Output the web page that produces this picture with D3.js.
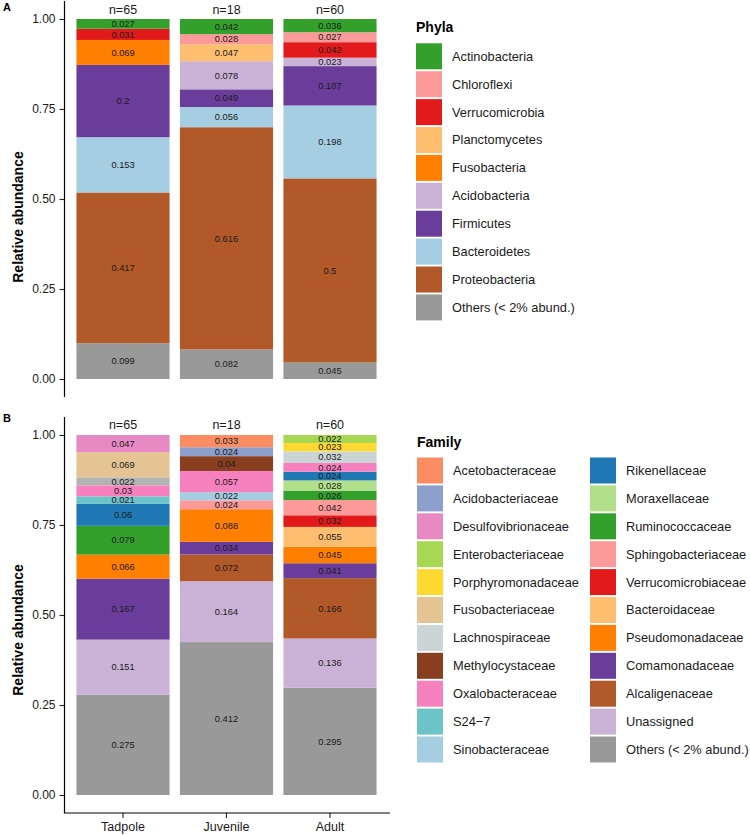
<!DOCTYPE html>
<html>
<head>
<meta charset="utf-8">
<script src="https://cdn.jsdelivr.net/npm/d3@7"></script>
<style>
  body { margin: 0; background: #fff; }
  svg { display: block; font-family: "Liberation Sans", Arial, Helvetica, sans-serif; }
</style>
</head>
<body>
<svg id="chart" width="750" height="835"></svg>
<script>
// ---------- DATA ----------
const groups = ["Tadpole", "Juvenile", "Adult"];
const sampleSizes = ["n=65", "n=18", "n=60"];
const yTicks = [0, 0.25, 0.5, 0.75, 1];

// Panel A: phyla (legend order, top to bottom)
const phyla = ["Actinobacteria", "Chloroflexi", "Verrucomicrobia", "Planctomycetes", "Fusobacteria",
  "Acidobacteria", "Firmicutes", "Bacteroidetes", "Proteobacteria", "Others (< 2% abund.)"];
const phylaColors = ["#33a02c", "#fb9a99", "#e31a1c", "#fdbf6f", "#ff7f00",
  "#cab2d6", "#6a3d9a", "#a6cee3", "#b15928", "#999999"];
const phylaTadpole  = [0.027, 0,     0.031, 0,     0.069, 0,     0.2,   0.153, 0.417, 0.099];
const phylaJuvenile = [0.042, 0.028, 0,     0.047, 0,     0.078, 0.049, 0.056, 0.616, 0.082];
const phylaAdult    = [0.036, 0.027, 0.042, 0,     0,     0.023, 0.107, 0.198, 0.5,   0.045];

// Panel B: families (legend order, column 1 then column 2)
const families = ["Acetobacteraceae", "Acidobacteriaceae", "Desulfovibrionaceae", "Enterobacteriaceae",
  "Porphyromonadaceae", "Fusobacteriaceae", "Lachnospiraceae", "Methylocystaceae", "Oxalobacteraceae",
  "S24\u22127", "Sinobacteraceae", "Rikenellaceae", "Moraxellaceae", "Ruminococcaceae",
  "Sphingobacteriaceae", "Verrucomicrobiaceae", "Bacteroidaceae", "Pseudomonadaceae",
  "Comamonadaceae", "Alcaligenaceae", "Unassigned", "Others (< 2% abund.)"];
const familyColors = ["#fc8d62", "#8da0cb", "#e78ac3", "#a6d854",
  "#ffd92f", "#e5c494", "#cbd5d5", "#873f1f", "#f781bf",
  "#6cc4c9", "#a6cee3", "#1f78b4", "#b2df8a", "#33a02c",
  "#fb9a99", "#e31a1c", "#fdbf6f", "#ff7f00",
  "#6a3d9a", "#b15928", "#cab2d6", "#999999"];
const familyTadpole  = [0, 0, 0.047, 0, 0, 0.069, 0.022, 0, 0.03, 0.021, 0, 0.06, 0, 0.079, 0, 0, 0, 0.066, 0.167, 0, 0.151, 0.275];
const familyJuvenile = [0.033, 0.024, 0, 0, 0, 0, 0, 0.04, 0.057, 0, 0.022, 0, 0, 0, 0.024, 0, 0, 0.088, 0.034, 0.072, 0.164, 0.412];
const familyAdult    = [0, 0, 0, 0.022, 0.023, 0, 0.032, 0, 0.024, 0, 0, 0.024, 0.028, 0.026, 0.042, 0.032, 0.055, 0.045, 0.041, 0.166, 0.136, 0.295];
// segment drawn in a different grey in the original figure
const colorOverrides = { "Tadpole|Lachnospiraceae": "#b3b3b3" };

// ---------- DRAW ----------
const svg = d3.select("#chart");
const textCol = "#1a1a1a";

const x = d3.scaleBand().domain(groups).range([63.5, 389.5]).paddingInner(0.1).paddingOuter(0.125);

function panel(opts) {
  const { keys, colors, series, top, zeroY, oneY, panelTop, panelBottom, tag, tagY, titleY, showX } = opts;
  const g = svg.append("g");
  const y = d3.scaleLinear().domain([0, 1]).range([zeroY, oneY]);
  const color = d3.scaleOrdinal().domain(keys).range(colors);

  const rows = groups.map((grp, gi) => {
    const r = { group: grp };
    keys.forEach((k, ki) => { r[k] = series[gi][ki]; });
    return r;
  });
  const stackKeys = keys.slice().reverse(); // Others at bottom
  const stacked = d3.stack().keys(stackKeys).offset(d3.stackOffsetExpand)(rows);

  stacked.forEach(layer => {
    layer.forEach(seg => {
      const grp = seg.data.group;
      const v = seg.data[layer.key];
      if (!v) return;
      const fill = colorOverrides[grp + "|" + layer.key] || color(layer.key);
      g.append("rect")
        .attr("x", x(grp)).attr("width", x.bandwidth())
        .attr("y", y(seg[1])).attr("height", y(seg[0]) - y(seg[1]))
        .attr("fill", fill);
      g.append("text")
        .attr("x", x(grp) + x.bandwidth() / 2)
        .attr("y", y((seg[0] + seg[1]) / 2))
        .attr("dy", "0.35em")
        .attr("text-anchor", "middle")
        .attr("font-size", 9.3)
        .attr("fill", textCol)
        .text(String(v));
    });
  });

  // sample sizes
  g.selectAll(".nlab").data(groups).enter().append("text")
    .attr("x", d => x(d) + x.bandwidth() / 2)
    .attr("y", top).attr("dy", "0.35em")
    .attr("text-anchor", "middle").attr("font-size", 12.5).attr("fill", textCol)
    .text((d, i) => sampleSizes[i]);

  // y axis
  const yAxis = d3.axisLeft(y).tickValues(yTicks).tickFormat(d3.format(".2f"))
    .tickSize(5).tickSizeOuter(0).tickPadding(4);
  const ax = g.append("g").attr("transform", "translate(64.5,0)").call(yAxis);
  ax.select(".domain").remove();
  ax.selectAll(".tick line").attr("stroke", "#222").attr("stroke-width", 1.1);
  ax.selectAll(".tick text").attr("font-size", 12).attr("fill", textCol)
    .attr("font-family", "Liberation Sans, Arial, sans-serif");
  g.append("line").attr("x1", 64.5).attr("x2", 64.5).attr("y1", panelTop).attr("y2", panelBottom)
    .attr("stroke", "#000").attr("stroke-width", 1.2);

  if (showX) {
    const xAxis = d3.axisBottom(x).tickSize(5).tickSizeOuter(0).tickPadding(4);
    const xa = g.append("g").attr("transform", `translate(0,${panelBottom})`).call(xAxis);
    xa.select(".domain").remove();
    xa.selectAll(".tick line").attr("stroke", "#222").attr("stroke-width", 1.1);
    xa.selectAll(".tick text").attr("font-size", 12.5).attr("fill", textCol)
      .attr("font-family", "Liberation Sans, Arial, sans-serif");
    g.append("line").attr("x1", 63.9).attr("x2", 390).attr("y1", panelBottom).attr("y2", panelBottom)
      .attr("stroke", "#000").attr("stroke-width", 1.2);
  }

  // axis title
  g.append("text")
    .attr("transform", `translate(18,${titleY}) rotate(-90)`)
    .attr("dy", "0.35em")
    .attr("text-anchor", "middle").attr("font-size", 14).attr("font-weight", "bold").attr("fill", "#000")
    .text("Relative abundance");

  // panel tag
  g.append("text").attr("x", 3).attr("y", tagY).attr("dy", "0.35em")
    .attr("font-size", 11).attr("font-weight", "bold").attr("fill", "#000").text(tag);
}

panel({ keys: phyla, colors: phylaColors, series: [phylaTadpole, phylaJuvenile, phylaAdult],
  top: 10, zeroY: 379, oneY: 19, panelTop: 1, panelBottom: 397, tag: "A", tagY: 7, titleY: 217, showX: false });
panel({ keys: families, colors: familyColors, series: [familyTadpole, familyJuvenile, familyAdult],
  top: 425, zeroY: 795, oneY: 435, panelTop: 417, panelBottom: 813, tag: "B", tagY: 418, titleY: 630, showX: true });

// ---------- LEGENDS ----------
function legend(title, keys, colors, x0, titleY, firstTop, perCol, colGap) {
  const g = svg.append("g");
  g.append("text").attr("x", x0).attr("y", titleY).attr("dy", "0.35em")
    .attr("font-size", 14).attr("font-weight", "bold").attr("fill", "#000").text(title);
  const step = 27.9, size = 26;
  keys.forEach((k, i) => {
    const col = Math.floor(i / perCol), row = i % perCol;
    const kx = x0 + col * colGap, ky = firstTop + row * step;
    g.append("rect").attr("x", kx).attr("y", ky).attr("width", size).attr("height", size)
      .attr("fill", colors[i]);
    g.append("text").attr("x", kx + 36).attr("y", ky + size / 2).attr("dy", "0.35em")
      .attr("font-size", 12.8).attr("fill", textCol).text(k);
  });
}
legend("Phyla", phyla, phylaColors, 416, 27, 43.3, 10, 0);
legend("Family", families, familyColors, 417, 442, 457.5, 11, 173);
</script>
</body>
</html>
